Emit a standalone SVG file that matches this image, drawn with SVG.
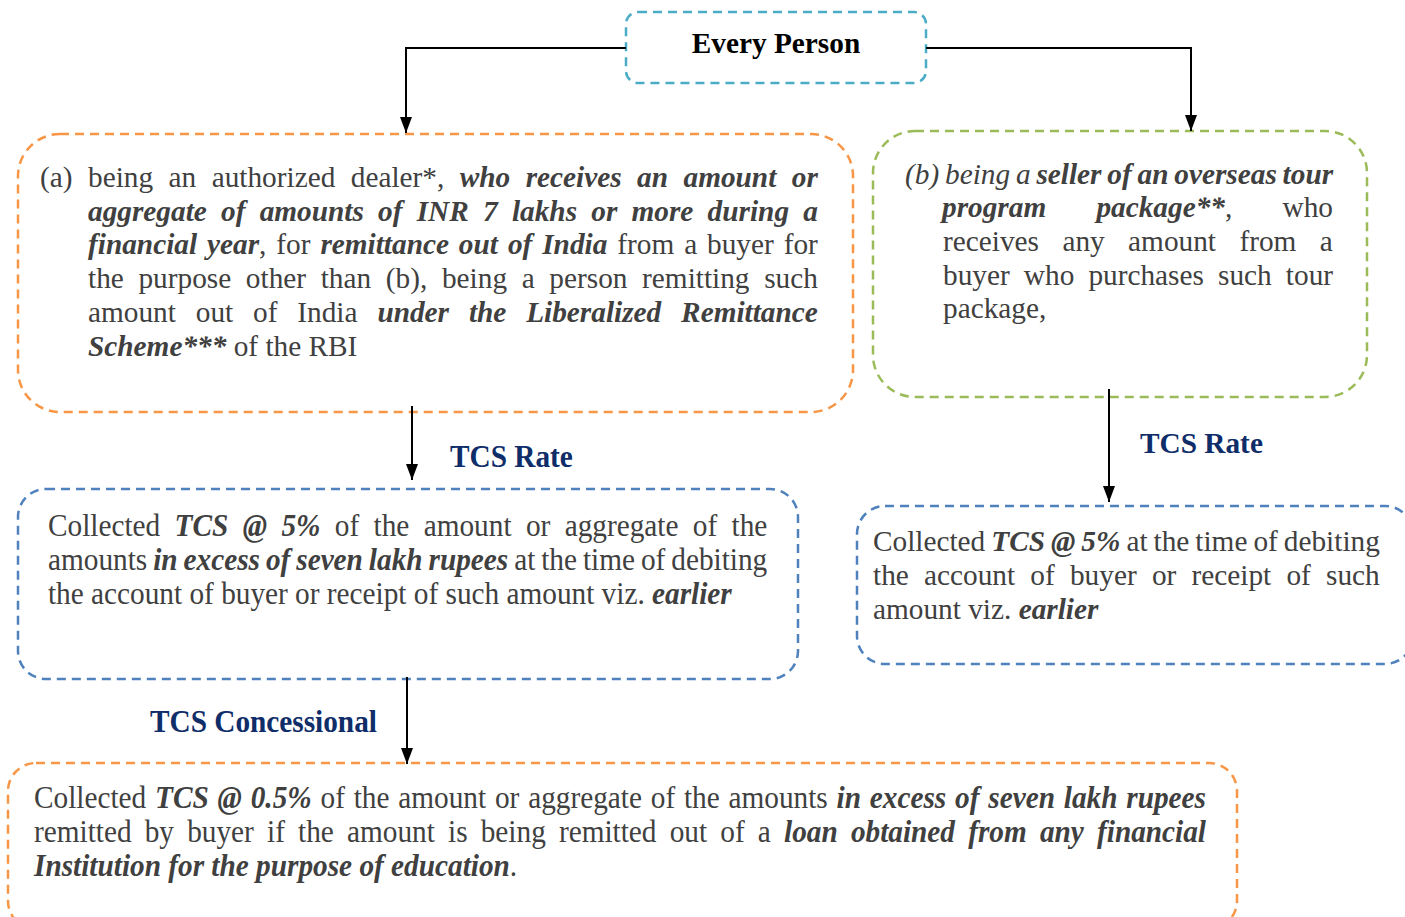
<svg xmlns="http://www.w3.org/2000/svg" width="1405" height="917" viewBox="0 0 1405 917">
<defs>
<style>
.box{fill:#fff;stroke-width:2.5;stroke-dasharray:9 6;}
.txt{font-family:"Liberation Serif","Times New Roman",serif;font-size:29.3px;fill:#404040;}
.ctxt{font-family:"Liberation Serif","Times New Roman",serif;font-size:32px;fill:#404040;}
.bi{font-weight:bold;font-style:italic;}
.i{font-style:italic;}
.lbl{font-family:"Liberation Serif","Times New Roman",serif;font-weight:bold;fill:#0F2D69;}
.conn{fill:none;stroke:#000;stroke-width:2;}
</style>
<marker id="ah" viewBox="0 -6 16 12" refX="16" refY="0" markerWidth="16" markerHeight="12" markerUnits="userSpaceOnUse" orient="auto">
<path d="M0,-6 L16,0 L0,6 z" fill="#000"/>
</marker>
</defs>
<rect width="1405" height="917" fill="#fff"/>

<g id="node-every-person">
<rect class="box" x="626" y="12" width="300" height="71" rx="12" stroke="#4BACC6"/>
<text x="776" y="53" text-anchor="middle" font-family="Liberation Serif, Times New Roman, serif" font-weight="bold" font-size="29.3" fill="#000">Every Person</text>
</g>

<g id="node-a">
<rect class="box" x="18" y="134" width="835" height="278" rx="42" stroke="#F79646"/>
<text class="txt" x="40" y="187">(a)</text>
<text class="txt" x="88" y="187" word-spacing="8.13">being an authorized dealer*, <tspan class="bi">who receives an amount or</tspan></text>
<text class="txt bi" x="88" y="220.7" word-spacing="6.9">aggregate of amounts of INR 7 lakhs or more during a</text>
<text class="txt" x="88" y="254.4" word-spacing="2.6"><tspan class="bi">financial year</tspan>, for <tspan class="bi">remittance out of India</tspan> from a buyer for</text>
<text class="txt" x="88" y="288.1" word-spacing="7.33">the purpose other than (b), being a person remitting such</text>
<text class="txt" x="88" y="321.8" word-spacing="12.54">amount out of India <tspan class="bi">under the Liberalized Remittance</tspan></text>
<text class="txt" x="88" y="355.5"><tspan class="bi">Scheme***</tspan> of the RBI</text>
</g>

<g id="node-b">
<rect class="box" x="873" y="131" width="494" height="266" rx="42" stroke="#9BBB59"/>
<text class="txt" x="905" y="183.5" word-spacing="-1.5"><tspan class="i">(b) being a </tspan><tspan class="bi">seller of an overseas tour</tspan></text>
<text class="txt" x="942" y="217.2" word-spacing="42.9"><tspan class="bi">program package**</tspan>, who</text>
<text class="txt" x="943" y="250.9" word-spacing="16.1">receives any amount from a</text>
<text class="txt" x="943" y="284.6" word-spacing="6.8">buyer who purchases such tour</text>
<text class="txt" x="943" y="318.3">package,</text>
</g>

<g id="node-rate-a">
<rect class="box" x="18" y="489" width="780" height="190" rx="28" stroke="#4F81BD"/>
<g transform="scale(0.9156 1)">
<text class="ctxt" x="52.42" y="536" word-spacing="7.71">Collected <tspan class="bi">TCS @ 5%</tspan> of the amount or aggregate of the</text>
<text class="ctxt" x="52.42" y="570" word-spacing="-1.49">amounts <tspan class="bi">in excess of seven lakh rupees</tspan> at the time of debiting</text>
<text class="ctxt" x="52.42" y="604">the account of buyer or receipt of such amount viz. <tspan class="bi">earlier</tspan></text>
</g>
</g>

<g id="node-rate-b">
<rect class="box" x="857" y="506" width="556" height="158" rx="28" stroke="#4F81BD"/>
<text class="txt" x="873" y="551" word-spacing="-1.33">Collected <tspan class="bi">TCS @ 5%</tspan> at the time of debiting</text>
<text class="txt" x="873" y="585" word-spacing="7.9">the account of buyer or receipt of such</text>
<text class="txt" x="873" y="619">amount viz. <tspan class="bi">earlier</tspan></text>
</g>

<g id="node-concessional">
<rect class="box" x="8" y="763" width="1229" height="166" rx="28" stroke="#F79646"/>
<g transform="scale(0.9156 1)">
<text class="ctxt" x="37.13" y="808" word-spacing="1.64">Collected <tspan class="bi">TCS @ 0.5%</tspan> of the amount or aggregate of the amounts <tspan class="bi">in excess of seven lakh rupees</tspan></text>
<text class="ctxt" x="37.13" y="842" word-spacing="6.4">remitted by buyer if the amount is being remitted out of a <tspan class="bi">loan obtained from any financial</tspan></text>
<text class="ctxt" x="37.13" y="876"><tspan class="bi">Institution for the purpose of education</tspan>.</text>
</g>
</g>

<g id="connectors">
<path class="conn" d="M626,48 H406 V133" marker-end="url(#ah)"/>
<path class="conn" d="M926,48 H1191 V131" marker-end="url(#ah)"/>
<path class="conn" d="M412,406 V480" marker-end="url(#ah)"/>
<path class="conn" d="M1109,389 V502" marker-end="url(#ah)"/>
<path class="conn" d="M407,677 V764" marker-end="url(#ah)"/>
</g>

<g id="labels">
<g transform="scale(0.9156 1)">
<text class="lbl" x="491.5" y="467" font-size="32">TCS Rate</text>
<text class="lbl" x="163.8" y="732" font-size="32">TCS Concessional</text>
</g>
<text class="lbl" x="1140" y="453" font-size="29.3">TCS Rate</text>
</g>
</svg>
